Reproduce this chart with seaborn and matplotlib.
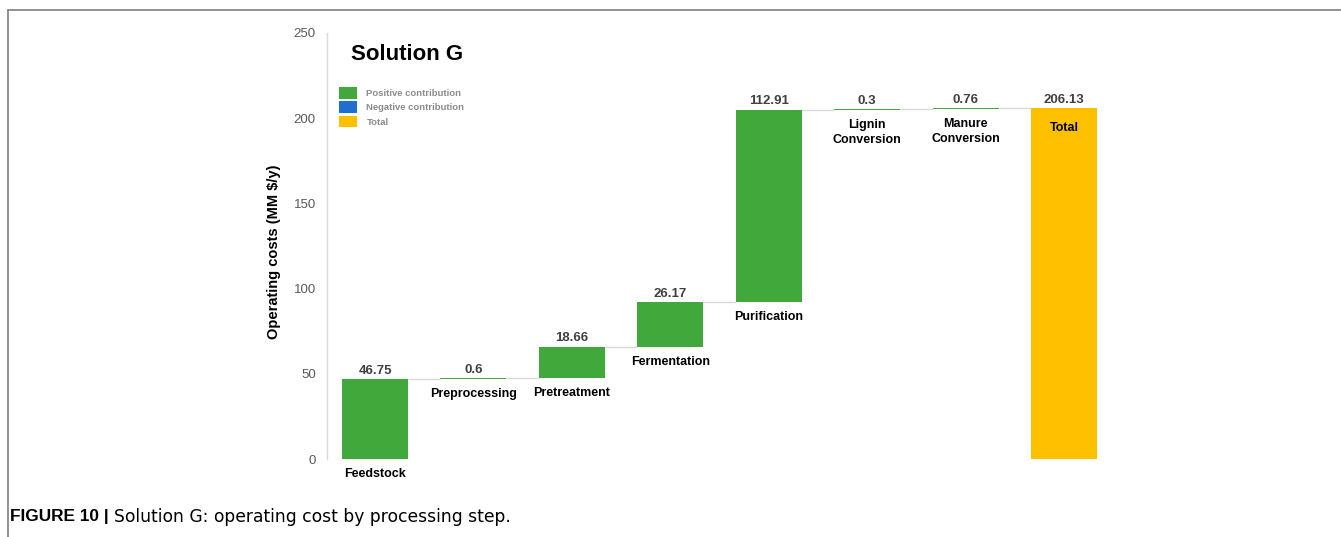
import matplotlib
matplotlib.use("Agg")
import numpy as np
import pandas as pd
import matplotlib.pyplot as plt
import seaborn as sns
from matplotlib.patches import Patch
from matplotlib.lines import Line2D

# ==========================================
# DATA
# ==========================================
steps = ["Feedstock", "Preprocessing", "Pretreatment", "Fermentation",
         "Purification", "Lignin\nConversion", "Manure\nConversion", "Total"]
values = [46.75, 0.6, 18.66, 26.17, 112.91, 0.3, 0.76, 206.13]
value_labels = ["46.75", "0.6", "18.66", "26.17", "112.91", "0.3", "0.76", "206.13"]
kinds = ["pos", "pos", "pos", "pos", "pos", "pos", "pos", "total"]
y_ticks = [0, 50, 100, 150, 200, 250]
legend_labels = ["Positive contribution", "Negative contribution", "Total"]

COLORS = {"pos": "#41A93B", "neg": "#1F6FD1", "total": "#FFC000"}
FONT = ["Liberation Sans", "DejaVu Sans"]

# waterfall bases
vals = np.array(values)
is_total = np.array([k == "total" for k in kinds])
bases = np.where(is_total, 0.0, np.concatenate([[0.0], np.cumsum(vals[:-1])]))
tops = bases + vals
df = pd.DataFrame({"step": steps, "value": values, "base": bases, "kind": kinds})

W, H = 1341, 537
BAR_W = 0.67

sns.set_style("white")
plt.rcParams["font.family"] = FONT
plt.rcParams["text.color"] = "black"
plt.rcParams["axes.labelcolor"] = "black"

fig = plt.figure(figsize=(W / 100, H / 100), dpi=100)
ax_left, ax_right, ax_top, ax_bottom = 327, 1130, 33, 459
ax = fig.add_axes([ax_left / W, (H - ax_bottom) / H,
                   (ax_right - ax_left) / W, (ax_bottom - ax_top) / H])

sns.barplot(data=df, x="step", y="value", bottom=df["base"].values,
            color=COLORS["pos"], saturation=1, width=BAR_W, ax=ax)
for patch, k in zip(ax.patches, kinds):
    patch.set_facecolor(COLORS[k])
    patch.set_edgecolor("none")

# connectors between bars
for i in range(len(steps) - 1):
    ax.hlines(tops[i], i + BAR_W / 2, i + 1 - BAR_W / 2, color="#d9d9d9", lw=1, zorder=1)

# labels
for i, (lab, top, base, k) in enumerate(zip(value_labels, tops, bases, kinds)):
    ax.annotate(lab, (i, top), xytext=(0, 1.5), textcoords="offset points",
                ha="center", va="bottom", fontsize=9.5, fontweight="bold", color="#404040")
    anchor = top if k == "total" else base
    off = -10 if k == "total" else -6.5
    ax.annotate(steps[i], (i, anchor), xytext=(0, off), textcoords="offset points",
                ha="center", va="top", fontsize=9, fontweight="bold", color="black",
                linespacing=1.35)

ax.set_xlim(-0.4877, 7 + (ax_right - 1064) / 98.43)
ax.set_ylim(0, 250)
ax.set_yticks(y_ticks)
ax.set_xticks([])
ax.set_xlabel("")
ax.tick_params(axis="y", length=0, pad=8, labelsize=9.5, labelcolor="#595959")
for s in ["top", "right", "bottom"]:
    ax.spines[s].set_visible(False)
ax.spines["left"].set_color("#d9d9d9")
ax.spines["left"].set_linewidth(1)

ax.set_ylabel("Operating costs (MM $/y)", fontsize=10.5, fontweight="bold", color="black")
ax.yaxis.set_label_coords((281 - ax_left) / (ax_right - ax_left), (ax_bottom - 251.5) / (ax_bottom - ax_top))

# title
fig.text(351 / W, 1 - 54 / H, "Solution G", fontsize=16, fontweight="bold",
         ha="left", va="center", color="black")

# legend
handles = [Patch(facecolor=COLORS[k], edgecolor="none") for k in ["pos", "neg", "total"]]
ax.legend(handles, legend_labels, loc="upper left",
          bbox_to_anchor=(339 / W, 1 - 87 / H), bbox_transform=fig.transFigure,
          frameon=False, borderpad=0, borderaxespad=0, handlelength=1.9,
          handleheight=1.5, handletextpad=1.0, labelspacing=0.3,
          prop={"family": FONT, "size": 6.8, "weight": "bold"}, labelcolor="#8c8c8c")

# frame around figure (top and left)
fig.add_artist(Line2D([8 / W, 1], [1 - 10 / H, 1 - 10 / H], transform=fig.transFigure,
                      color="#7f7f7f", lw=1.2))
fig.add_artist(Line2D([8 / W, 8 / W], [0, 1 - 10 / H], transform=fig.transFigure,
                      color="#7f7f7f", lw=1.2))

# caption
cap_y = 1 - 517 / H
fig.text(10 / W, cap_y, "FIGURE 10 |", fontsize=12.4, fontweight="bold", ha="left",
         va="center", color="black")
fig.text(114 / W, cap_y, "Solution G: operating cost by processing step.", fontsize=12.3,
         family=["DejaVu Sans"], ha="left", va="center", color="black")

fig.savefig("out.png", dpi=100)
